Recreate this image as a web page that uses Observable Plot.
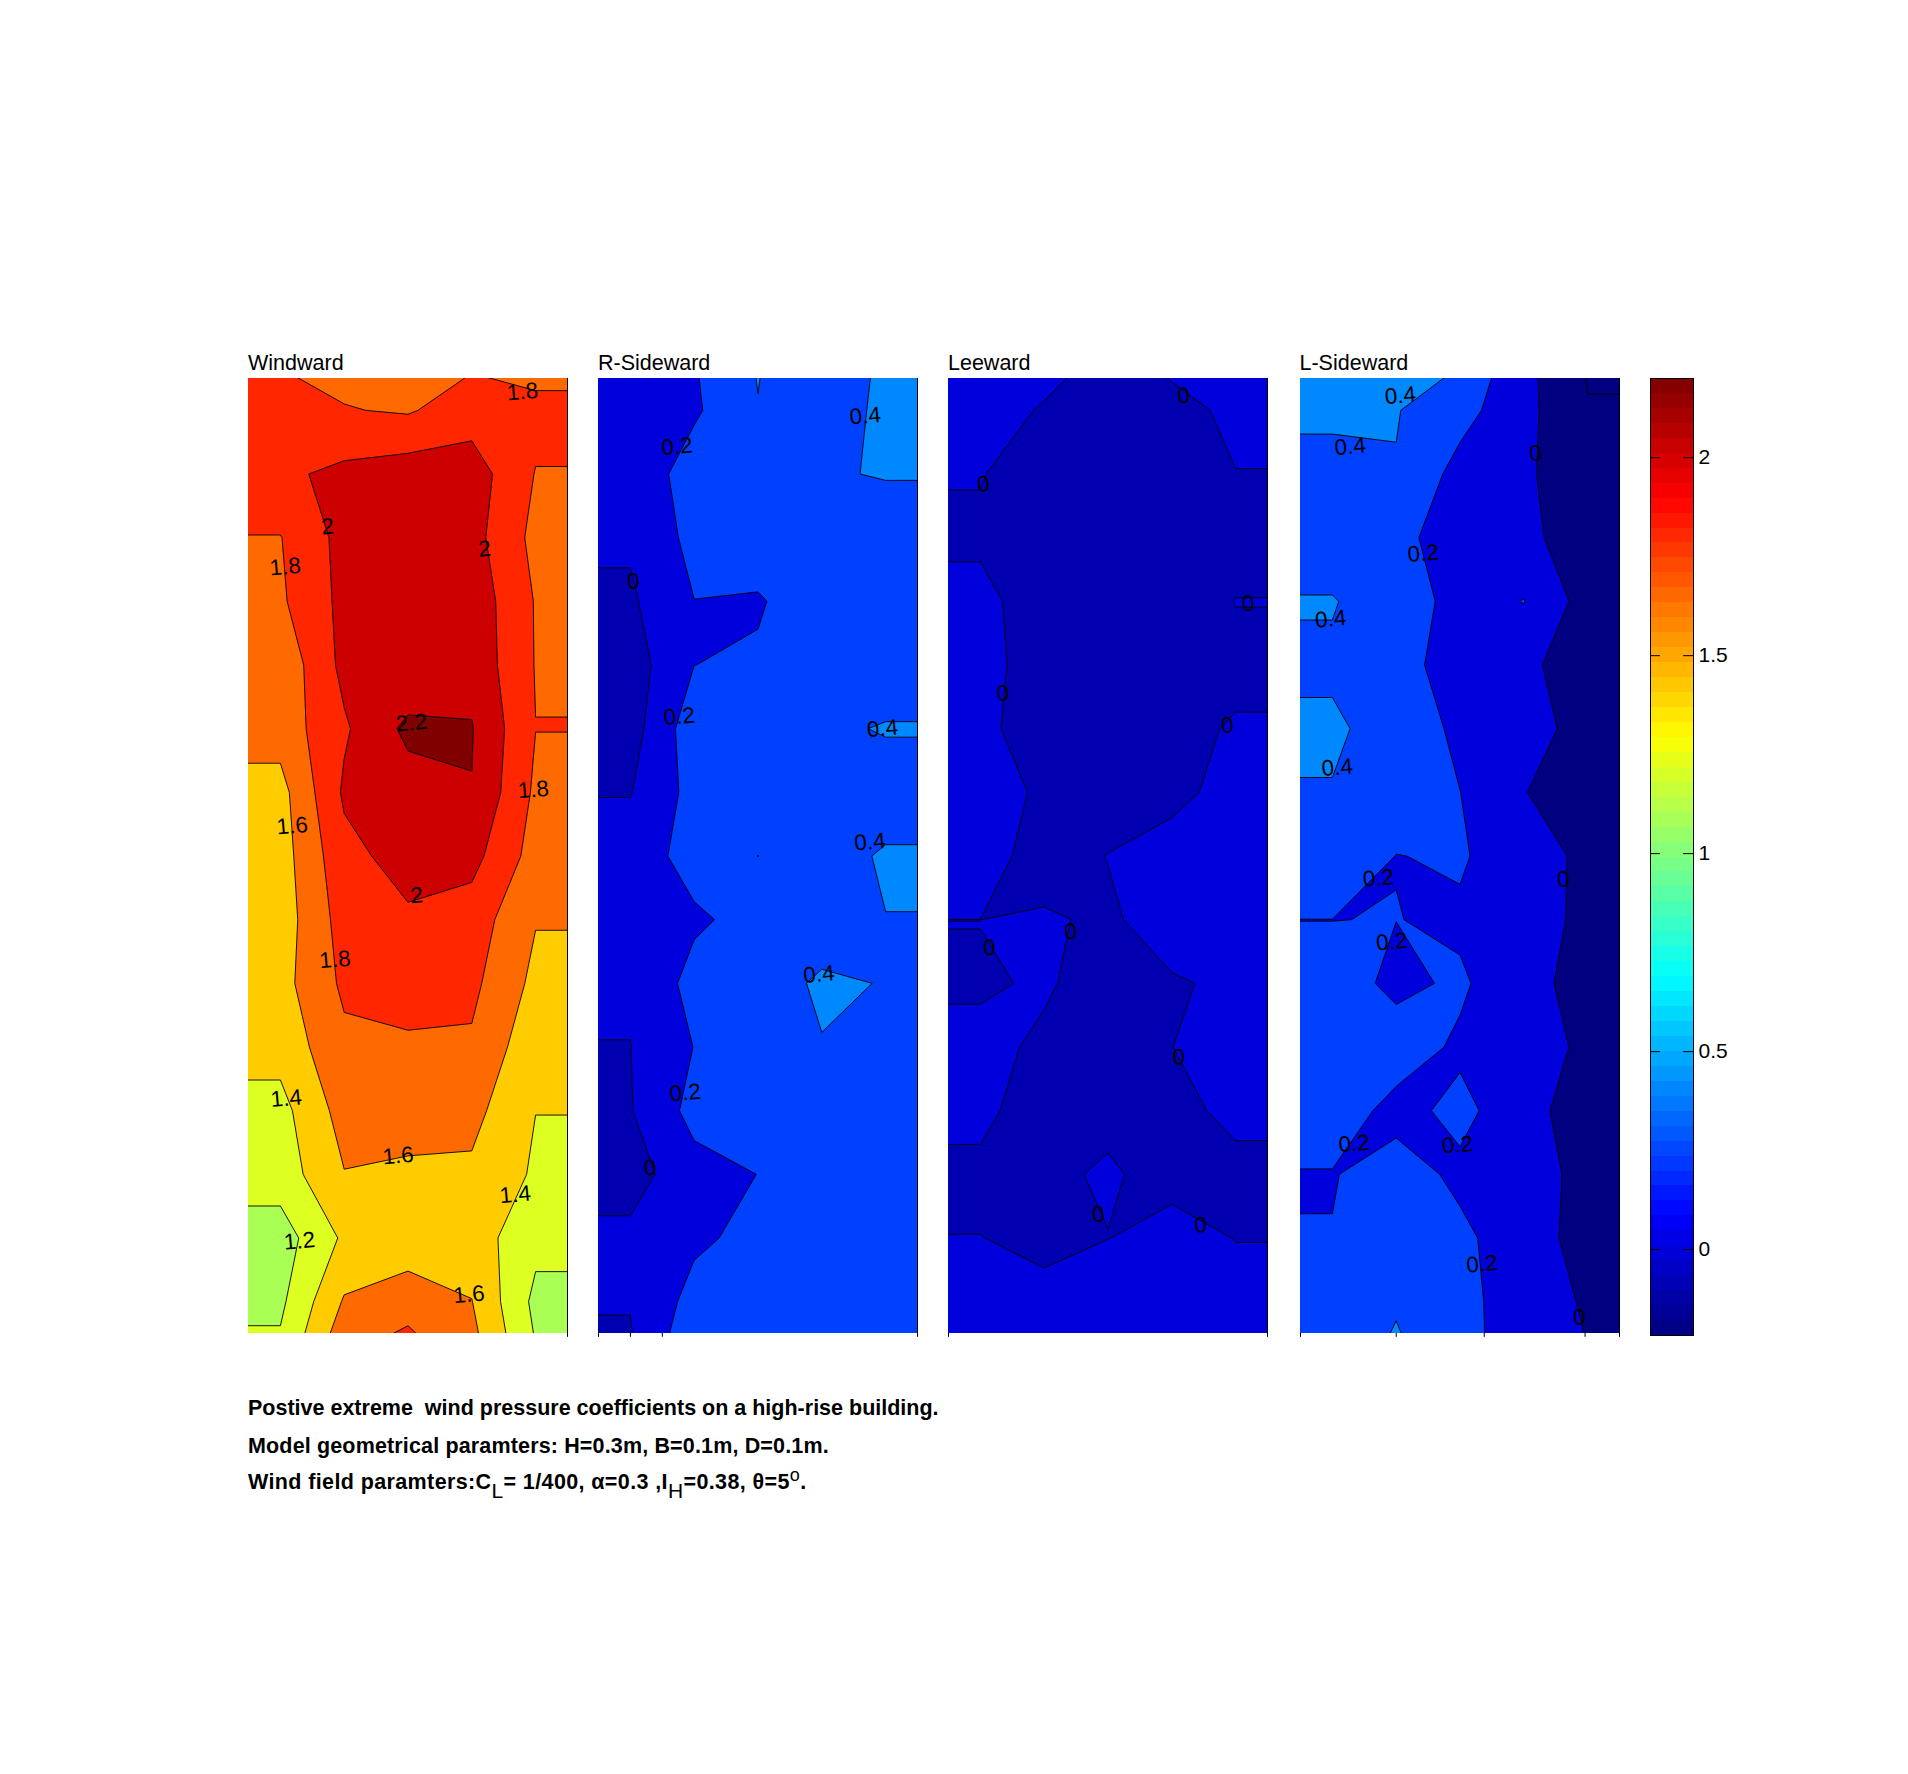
<!DOCTYPE html>
<html><head><meta charset="utf-8">
<script src="https://cdn.jsdelivr.net/npm/d3@7"></script>
<script src="https://cdn.jsdelivr.net/npm/@observablehq/plot@0.6"></script>
<style>
html,body{margin:0;padding:0;background:#fff;font-family:"Liberation Sans",Arial,sans-serif}
#stage{position:relative;width:1908px;height:1774px;overflow:hidden}
#stage svg{position:absolute;overflow:visible}
.title{position:absolute;font-size:21.5px;color:#000;white-space:pre;line-height:26px}
.cap{position:absolute;left:248px;font-size:21.5px;font-weight:bold;color:#000;white-space:pre;line-height:26px}
.cap sub,.cap sup{font-weight:normal;line-height:0}
.cap sub{font-size:21px;vertical-align:-9px}.cap sup{font-size:18px}
</style></head><body><div id="stage"></div>
<script>
// pressure coefficients: 5 tap columns, 17 tap rows
const windward = [
[1.75,1.71,1.65,1.723,1.666],
[1.90,1.81,1.78,1.908,1.86],
[1.96,2.05,2.106,2.10,1.792],
[1.793,2.065,2.10,2.072,1.744],
[1.77,2.054,2.13,2.127,1.788],
[1.653,2.055,2.03,2.14,1.791],
[1.683,1.973,2.247,2.21,1.802],
[1.53,2.03,2.113,2.195,1.765],
[1.51,1.94,2.08,2.066,1.72],
[1.494,1.884,1.97,1.907,1.61],
[1.531,1.837,1.87,1.846,1.55],
[1.47,1.756,1.775,1.773,1.464],
[1.335,1.68,1.72,1.66,1.402],
[1.293,1.593,1.551,1.565,1.373],
[1.106,1.433,1.52,1.50,1.256],
[1.16,1.62,1.674,1.605,1.15],
[1.266,1.82,2.007,1.695,1.22]];
const rSideward = [
[.08,.195,.42,.22,.44],
[.05,.17,.393,.30,.442],
[.05,.30,.33,.385,.41],
[.026,.257,.32,.33,.31],
[-.029,.198,.179,.329,.30],
[-.096,.199,.227,.31,.319],
[-.085,.318,.32,.373,.41],
[-.008,.266,.31,.34,.335],
[.092,.276,.21,.349,.414],
[.08,.17,.264,.294,.398],
[.0157,.265,.305,.43,.392],
[-.002,.204,.3,.391,.33],
[-.011,.263,.3,.33,.3],
[-.082,.129,.202,.3,.3],
[.044,.164,.256,.3,.3],
[.01,.267,.28,.3,.3],
[-.0376,.45,.45,.35,.3]];
const leeward = [
[.05,.0565,-.01,.0305,.025],
[.05,-.01,-.04,-.025,.0165],
[.005,-.05,-.05,-.05,-.0015],
[-.015,-.05,-.05,-.05,-.025],
[.0245,-.0455,-.05,-.035,.0015],
[.04,-.056,-.05,-.04,-.015],
[.035,-.0735,-.05,-.016,.00525],
[.05,-.0175,-.05,-.03,.04],
[.04,-.04,.0025,.045,.05],
[-.0002,.01,-.0138,.043,.05],
[.008,.01385,-.052,-.0088,.0155],
[.03085,-.01935,-.05,-.001,.05],
[.034,-.0755,-.02,-.03,.025],
[-.03,-.0165,.01,-.0285,-.028],
[.0019,-.025,-.00165,.032,-.002],
[.05,.028,.081,.06,.0265],
[.05,.05,.05,.05,.05]];
const lSideward = [
[.45,.457,.456,.06,-.229],
[.45,.41,.271,.06,-.19],
[.316,.39,.13,.0475,-.19],
[.31,.244,.12,.07,-.149],
[.41,.31,.13,.205,-.084],
[.376,.272,.11,.07,-.17],
[.423,.34,.153,.09,-.081],
[.393,.34,.202,.01,-.165],
[.393,.196,.22,.092,-.043],
[.1985,.2035,.175,.09,-.047],
[.261,.201,.22,.104,-.115],
[.3,.26,.18,.1,-.041],
[.264,.163,.23,.13,-.187],
[.194,.249,.177,.1,-.067],
[.2037,.3,.223,.14,-.113],
[.33,.37,.259,.1,-.022],
[.26,.47,.22,.17,.008]];

// closed low pockets around one tap, kept apart from their neighbours
const leewardPocket = [.0026,.0026,.01, -.015,-.015,.01385, .03085,.03085,.02];
const lSidewardPocket = [.25,.201,.25, .261,.17,.22, .3,.26,.25];

const windwardLevels = [1.09,1.2,1.4,1.6,1.8,2.0,2.2];
const windwardColors = ["#AAFF55","#DDFF22","#FFCC00","#FF6A00","#FF2600","#CC0000","#800000"];
const rSidewardLevels = [-0.1,0,0.2,0.4];
const rSidewardColors = ["#0000B0","#0000DD","#0040FF","#0088FF"];
const leewardLevels = [-0.1,0,0.2];
const leewardColors = ["#0000B0","#0000DD","#0040FF"];
const lSidewardLevels = [-0.24,-0.2,0,0.2,0.4];
const lSidewardColors = ["#000080","#000080","#0000DD","#0040FF","#0088FF"];

// contour labels: text, across the face (0..1), down the face (0..15)
const windwardLabels = [["1.8",.859,.21],["2",.248,2.33],["1.8",.115,2.96],["2",.74,2.68],["2.2",.511,5.41],["1.8",.893,6.46],["1.6",.137,7.03],["2",.527,8.12],["1.8",.271,9.13],["1.4",.118,11.31],["1.6",.469,12.21],["1.4",.836,12.82],["1.2",.16,13.55],["1.6",.691,14.39]];
const rSidewardLabels = [["0.4",.836,.59],["0.2",.246,1.07],["0",.109,3.19],["0.2",.253,5.31],["0.4",.89,5.50],["0.4",.851,7.28],["0.4",.691,9.36],["0.2",.272,11.22],["0",.162,12.40]];
const leewardLabels = [["0",.737,.27],["0",.109,1.66],["0",.939,3.54],["0",.17,4.95],["0",.874,5.45],["0",.128,8.94],["0",.383,8.69],["0",.722,10.66],["0",.47,13.13],["0",.79,13.30]];
const lSidewardLabels = [["0.4",.313,.27],["0.4",.156,1.07],["0",.737,1.18],["0.2",.385,2.75],["0.4",.095,3.78],["0.4",.115,6.11],["0.2",.244,7.85],["0",.824,7.87],["0.2",.286,8.85],["0.2",.168,12.02],["0.2",.492,12.04],["0.2",.569,13.91],["0",.874,14.75]];
const rSidewardPit = [[.5,7.5]];

const faceNames = ["Windward","R-Sideward","Leeward","L-Sideward"];
const colorTicks = [0,0.5,1,1.5,2];
const cMin = -0.217, cMax = 2.2;

// MATLAB jet, 64 steps
function jet(t){
  const c = v => Math.round(255*Math.max(0,Math.min(1,v)));
  return d3.rgb(c(Math.min(4*t-1.5,-4*t+4.5)),c(Math.min(4*t-0.5,-4*t+3.5)),c(Math.min(4*t+0.5,-4*t+2.5))).formatHex();
}
const jetRange = d3.range(64).map(i=>jet((i+0.5)/64));
const jetBreaks = d3.range(1,64).map(i=>cMin+i*(cMax-cMin)/64);

const stage = document.getElementById("stage");
const panelTop = 378, panelW = 319, panelH = 955;
const line = {stroke:"#000",strokeWidth:0.9};

function face(name,rows,levels,colors,labels,left,stubs,extra){
  const dense = rows.flatMap(r=>[r[0],...r,r[4]]);
  const svg = Plot.plot({
    width:panelW,height:panelH,margin:0,
    style:{background:"none",fontFamily:"Liberation Sans, Arial, sans-serif"},
    x:{domain:[0,1],axis:null},
    y:{domain:[0,15],reverse:true,axis:null},
    color:{type:"ordinal",domain:levels,range:colors},
    marks:[
      Plot.contour(dense,{x1:-0.2,x2:1.2,y1:-1,y2:16,width:7,height:17,thresholds:levels,fill:Plot.identity,...line,clip:true}),
      ...extra,
      Plot.ruleX([1],{stroke:"#000",strokeWidth:1}),
      Plot.ruleX(stubs,{y1:()=>15,y2:()=>15.06,stroke:"#000",strokeWidth:1}),
      Plot.text(labels,{x:d=>d[1],y:d=>d[2],text:d=>d[0],fontSize:22.5,rotate:-5,fill:"#000"})
    ]
  });
  svg.style.left=left+"px"; svg.style.top=panelTop+"px";
  stage.appendChild(svg);
  const t=document.createElement("div");
  t.className="title"; t.textContent=name;
  t.style.left=left+"px"; t.style.top=(panelTop-28)+"px";
  stage.appendChild(t);
}
const pocket = (values,x1,x2,y1,y2,level,fill) =>
  Plot.contour(values.map(v=>-v),{x1,x2,y1,y2,width:3,height:3,value:d=>d,thresholds:[-level],fill,...line,clip:true});

face(faceNames[0],windward,windwardLevels,windwardColors,windwardLabels,248,[1],[]);
face(faceNames[1],rSideward,rSidewardLevels,rSidewardColors,rSidewardLabels,598,[0,.1,.2,1],
  [Plot.dot(rSidewardPit,{x:d=>d[0],y:d=>d[1],r:1,fill:"#000"})]);
face(faceNames[2],leeward,leewardLevels,leewardColors,leewardLabels,948,[0,1],
  [pocket(leewardPocket,-0.2,0.4,8,11,0,leewardColors[0])]);
face(faceNames[3],lSideward,lSidewardLevels,lSidewardColors,lSidewardLabels,1299.5,[0,.3,.576,.892,1],
  [pocket(lSidewardPocket,0,0.6,8,11,0.2,lSidewardColors[2])]);

const bands = d3.range(64).map(i=>({lo:cMin+i*(cMax-cMin)/64,hi:cMin+(i+1)*(cMax-cMin)/64}));
const bar = Plot.plot({
  width:43,height:957,margin:0,
  style:{background:"none",fontFamily:"Liberation Sans, Arial, sans-serif"},
  x:{domain:[0,1],axis:null},
  y:{domain:[cMin,cMax]},
  color:{type:"threshold",domain:jetBreaks,range:jetRange},
  marks:[
    Plot.rect(bands,{x1:()=>0,x2:()=>1,y1:"lo",y2:"hi",fill:d=>(d.lo+d.hi)/2,shapeRendering:"crispEdges"}),
    Plot.ruleY(colorTicks,{x1:()=>0,x2:()=>0.23,stroke:"#000"}),
    Plot.ruleY(colorTicks,{x1:()=>0.77,x2:()=>1,stroke:"#000"}),
    Plot.frame({stroke:"#000",strokeWidth:1}),
    Plot.axisY(colorTicks,{anchor:"right",tickSize:0,tickPadding:5,fontSize:21,label:null,tickFormat:String,fill:"#000"})
  ]
});
bar.style.left="1650px"; bar.style.top="377.5px";
stage.appendChild(bar);

const caps = [
 ["Postive extreme  wind pressure coefficients on a high-rise building.",1395,0],
 ["Model geometrical paramters: H=0.3m, B=0.1m, D=0.1m.",1433,0.15],
 ["Wind field paramters:C<sub>L</sub>= 1/400, \u03B1=0.3 ,I<sub>H</sub>=0.38, \u03B8=5<sup>o</sup>.",1469,0.38]
];
for(const [html,y,ls] of caps){
  const d=document.createElement("div");
  d.className="cap"; d.innerHTML=html; d.style.top=y+"px"; d.style.letterSpacing=ls+"px";
  stage.appendChild(d);
}
</script></body></html>
